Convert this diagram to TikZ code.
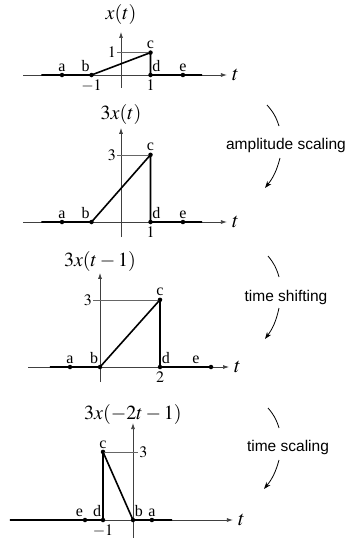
\documentclass[tikz,border=0pt]{standalone}
\usepackage{mathptmx}
\usepackage{fontspec}
\setmainfont{Liberation Serif}
\newfontfamily\helv{Liberation Sans}
\usetikzlibrary{arrows.meta,positioning}

\begin{document}
\begin{tikzpicture}[x=1pt, y=1pt, >={Latex[length=6pt,width=4pt]},
  font=\fontsize{16}{19}\selectfont]

\tikzstyle{axis}=[->, draw=black!75, line width=0.7pt]
\tikzstyle{sig}=[line width=1.6pt, line join=round]
\tikzstyle{guide}=[draw=black!60, line width=0.6pt]
\tikzstyle{pt}=[circle, fill, inner sep=0pt, minimum size=4.5pt]
\tikzstyle{lab}=[inner sep=1pt]
\tikzstyle{ttl}=[font=\fontsize{20}{24}\selectfont]
\tikzstyle{tvar}=[font=\fontsize{21}{24}\selectfont, inner sep=1pt]
\tikzstyle{op}=[font=\helv\fontsize{15.5}{18}\selectfont]
\tikzstyle{turn}=[line width=0.8pt]

\useasboundingbox (0,0) rectangle (349,-541);

% x(t)
\begin{scope}[shift={(121,-75)}, x=29.5pt, y=22.4pt]
\node[ttl] (ttl1) at (0,2.68) {$x(t)$};
\coordinate (hl1) at (-3.32,0); \coordinate (hr1) at (3.59,0);
\coordinate (vb1) at (0,-0.58); \coordinate (vt1) at (0,1.92);
\coordinate (sl1) at (-2.7,0); \coordinate (sr1) at (2.75,0);
\coordinate (y1) at (-0.13,1);
\draw[axis] (hl1) -- (hr1);
\node[tvar, right=4pt of hr1] (tt1) {$t$};
\draw[axis] (vb1) -- (vt1);
\node[pt] (a1) at (-2,0) {};
\node[pt] (b1) at (-1,0) {};
\node[pt] (c1) at (1,1) {};
\node[pt] (d1) at (1,0) {};
\node[pt] (e1) at (2.1,0) {};
\draw[guide] (y1) -- (c1.center);
\draw[sig] (sl1) -- (b1.center) -- (c1.center) -- (d1.center) -- (sr1);
\node[lab, above=0pt of a1] (la1) {a};
\node[lab, above left=0pt and -1pt of b1] (lb1) {b};
\node[lab, above=0pt of c1] (lc1) {c};
\node[lab, above right=0pt and -1pt of d1] (ld1) {d};
\node[lab, above=0pt of e1] (le1) {e};
\node[lab, left=0pt of y1] (n1) {$1$};
\node[lab, below=1pt of b1] (m1) {$-1$};
\node[lab, below=1pt of d1] (p1) {$1$};
\end{scope}

% 3x(t)
\begin{scope}[shift={(121,-222)}, x=29.5pt, y=22.4pt]
\node[ttl] (ttl2) at (0,4.82) {$3x(t)$};
\coordinate (hl2) at (-3.32,0); \coordinate (hr2) at (3.59,0);
\coordinate (vb2) at (0,-0.67); \coordinate (vt2) at (0,4.2);
\coordinate (sl2) at (-2.7,0); \coordinate (sr2) at (2.75,0);
\coordinate (y2) at (-0.13,3);
\draw[axis] (hl2) -- (hr2);
\node[tvar, right=4pt of hr2] (tt2) {$t$};
\draw[axis] (vb2) -- (vt2);
\node[pt] (a2) at (-2,0) {};
\node[pt] (b2) at (-1,0) {};
\node[pt] (c2) at (1,3) {};
\node[pt] (d2) at (1,0) {};
\node[pt] (e2) at (2.1,0) {};
\draw[guide] (y2) -- (c2.center);
\draw[sig] (sl2) -- (b2.center) -- (c2.center) -- (d2.center) -- (sr2);
\node[lab, above=0pt of a2] (la2) {a};
\node[lab, above left=0pt and -1pt of b2] (lb2) {b};
\node[lab, above=0pt of c2] (lc2) {c};
\node[lab, above right=0pt and -1pt of d2] (ld2) {d};
\node[lab, above=0pt of e2] (le2) {e};
\node[lab, left=0pt of y2] (n2) {$3$};
\node[lab, below=1pt of d2] (p2) {$1$};
\end{scope}

% 3x(t-1)
\begin{scope}[shift={(100,-367)}, x=30pt, y=22.4pt]
\node[ttl] (ttl3) at (0,4.73) {$3x(t-1)$};
\coordinate (hl3) at (-2.4,0); \coordinate (hr3) at (4.3,0);
\coordinate (vb3) at (0,-0.67); \coordinate (vt3) at (0,4.2);
\coordinate (sl3) at (-1.67,0);
\coordinate (y3) at (-0.23,3);
\draw[axis] (hl3) -- (hr3);
\node[tvar, right=4pt of hr3] (tt3) {$t$};
\draw[axis] (vb3) -- (vt3);
\node[pt] (a3) at (-1,0) {};
\node[pt] (b3) at (0,0) {};
\node[pt] (c3) at (2,3) {};
\node[pt] (d3) at (2,0) {};
\node[pt] (e3) at (3.7,0) {};
\draw[guide] (y3) -- (c3.center);
\draw[sig] (sl3) -- (b3.center) -- (c3.center) -- (d3.center) -- (e3.center);
\node[lab, above=0pt of a3] (la3) {a};
\node[lab, above left=0pt and -1pt of b3] (lb3) {b};
\node[lab, above=0pt of c3] (lc3) {c};
\node[lab, above right=0pt and -1pt of d3] (ld3) {d};
\node[lab, anchor=south] (le3) at (3.2,0.1) {e};
\node[lab, left=0pt of y3] (n3) {$3$};
\node[lab, below=1pt of d3] (p3) {$2$};
\end{scope}

% 3x(-2t-1)
\begin{scope}[shift={(133,-520)}, x=30pt, y=22.7pt]
\node[ttl] (ttl4) at (0,4.63) {$3x(-2t-1)$};
\coordinate (hl4) at (-4.1,0); \coordinate (hr4) at (3.33,0);
\coordinate (vb4) at (0,-0.79); \coordinate (vt4) at (0,4.27);
\coordinate (sr4) at (1.3,0);
\coordinate (y4) at (0.17,3);
\draw[axis] (hl4) -- (hr4);
\node[tvar, right=4pt of hr4] (tt4) {$t$};
\draw[axis] (vb4) -- (vt4);
\node[pt] (e4) at (-1.6,0) {};
\node[pt] (d4) at (-1,0) {};
\node[pt] (c4) at (-1,3) {};
\node[pt] (b4) at (0,0) {};
\node[pt] (a4) at (0.63,0) {};
\draw[guide] (c4.center) -- (y4);
\draw[sig] (hl4) -- (d4.center) -- (c4.center) -- (b4.center) -- (sr4);
\node[lab, above left=0pt and -1pt of e4] (le4) {e};
\node[lab, above left=0pt and -1pt of d4] (ld4) {d};
\node[lab, above=0pt of c4] (lc4) {c};
\node[lab, above right=0pt and -1pt of b4] (lb4) {b};
\node[lab, above=0pt of a4] (la4) {a};
\node[lab, right=0pt of y4] (n4) {$3$};
\node[lab, below=1pt of d4] (m4) {$-1$};
\end{scope}

% operations
\node[op] (amp) at (286,-145) {amplitude scaling};
\coordinate (amp1) at (267,-105); \coordinate (amp2) at (279,-126);
\coordinate (amp3) at (280,-158); \coordinate (amp4) at (265,-188);
\draw[turn] (amp1) to[bend left=12] (amp2);
\draw[turn, -{Stealth[length=7pt,width=5pt]}] (amp3) to[bend left=12] (amp4);

\node[op] (shf) at (286,-297) {time shifting};
\coordinate (shf1) at (268,-256); \coordinate (shf2) at (279,-277);
\coordinate (shf3) at (279,-308); \coordinate (shf4) at (265,-339);
\draw[turn] (shf1) to[bend left=12] (shf2);
\draw[turn, -{Stealth[length=7pt,width=5pt]}] (shf3) to[bend left=12] (shf4);

\node[op] (scl) at (288,-447) {time scaling};
\coordinate (scl1) at (268,-408); \coordinate (scl2) at (279,-428);
\coordinate (scl3) at (279,-460); \coordinate (scl4) at (264,-489);
\draw[turn] (scl1) to[bend left=12] (scl2);
\draw[turn, -{Stealth[length=7pt,width=5pt]}] (scl3) to[bend left=12] (scl4);

\end{tikzpicture}
\end{document}
